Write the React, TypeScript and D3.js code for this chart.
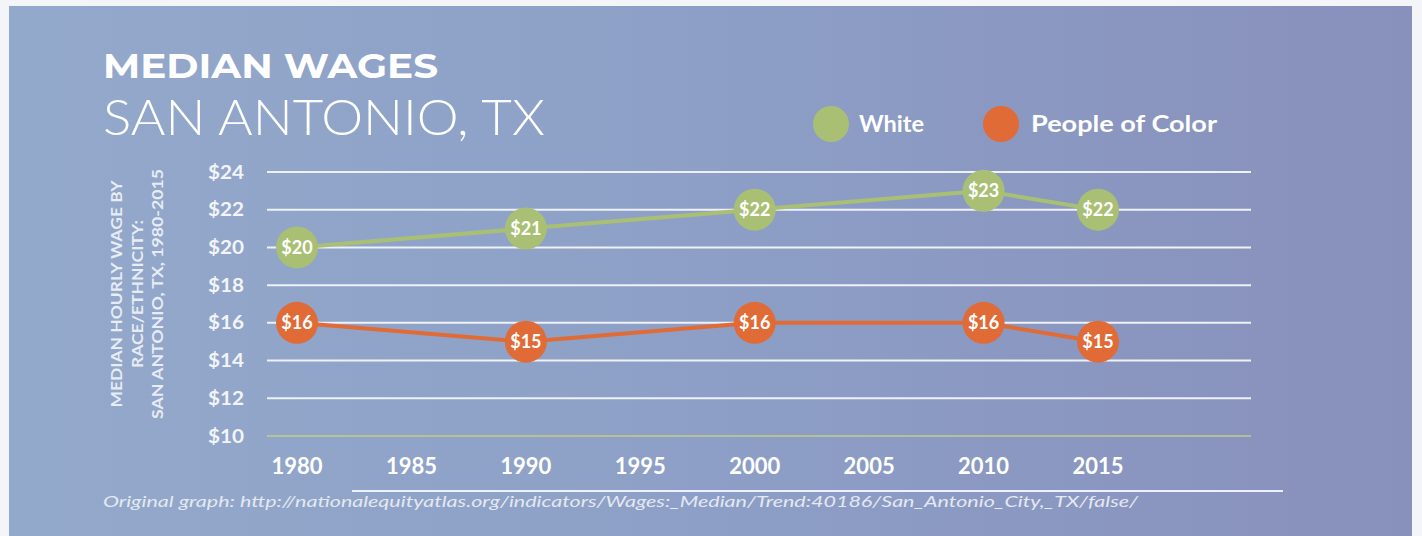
import React from "react";
import * as d3 from "d3";

const years = [1980, 1990, 2000, 2010, 2015];
const whiteWages = [20, 21, 22, 23, 22];
const pocWages = [16, 15, 16, 16, 15];
const xTicks = [1980, 1985, 1990, 1995, 2000, 2005, 2010, 2015];
const yTicks = [10, 12, 14, 16, 18, 20, 22, 24];
const seriesNames = ["White", "People of Color"];
const title = "MEDIAN WAGES";
const subtitle = "SAN ANTONIO, TX";
const yTitleLines = ["MEDIAN HOURLY WAGE BY", "RACE/ETHNICITY:", "SAN ANTONIO, TX, 1980-2015"];
const footer = "Original graph: http://nationalequityatlas.org/indicators/Wages:_Median/Trend:40186/San_Antonio_City,_TX/false/";

const W = 1422;
const H = 536;
const GREEN = "#a9c074";
const ORANGE = "#e06b36";
const FONT = "Lato, 'Open Sans', sans-serif";
const yTitleLengths = [227, 148, 250];

export default function App() {
  const x = d3.scaleLinear().domain([1980, 2015]).range([297, 1098]);
  const y = d3.scaleLinear().domain([10, 24]).range([436, 172]);
  const gridX0 = 267;
  const gridX1 = 1251;

  const line = d3
    .line<[number, number]>()
    .x((d) => x(d[0]))
    .y((d) => y(d[1]));

  const series = [
    { name: seriesNames[0], values: whiteWages, color: GREEN },
    { name: seriesNames[1], values: pocWages, color: ORANGE },
  ];

  return (
    <svg
      width={W}
      height={H}
      style={{ position: "absolute", left: 0, top: 0, display: "block" }}
    >
      <defs>
        <linearGradient id="bg" x1="0" x2="1" y1="0" y2="0">
          <stop offset="0" stopColor="#93a9cb" />
          <stop offset="0.5" stopColor="#8d9fc6" />
          <stop offset="1" stopColor="#8890bc" />
        </linearGradient>
      </defs>
      <rect x={0} y={0} width={W} height={H} fill="#f4f5f8" />
      <rect x={9} y={6} width={1403} height={H - 6} fill="url(#bg)" />

      {/* Title */}
      <text x={103} y={78} fill="#ffffff" fontFamily="Montserrat, Lato, sans-serif" fontWeight={700} fontSize={34} textLength={335} lengthAdjust="spacingAndGlyphs">
        {title}
      </text>
      <text x={103} y={135} fill="#ffffff" fontFamily="Lato, sans-serif" fontWeight={300} fontSize={50} textLength={442} lengthAdjust="spacingAndGlyphs">
        {subtitle}
      </text>

      {/* Legend */}
      <circle cx={831} cy={124} r={18} fill={GREEN} />
      <text x={859} y={132} fill="#ffffff" fontFamily={FONT} fontWeight={700} fontSize={23} textLength={65} lengthAdjust="spacingAndGlyphs">
        {seriesNames[0]}
      </text>
      <circle cx={1001} cy={124} r={18} fill={ORANGE} />
      <text x={1031} y={132} fill="#ffffff" fontFamily={FONT} fontWeight={700} fontSize={23} textLength={186} lengthAdjust="spacingAndGlyphs">
        {seriesNames[1]}
      </text>

      {/* Grid lines */}
      {yTicks.map((t) => (
        <line
          key={"g" + t}
          x1={gridX0}
          x2={gridX1}
          y1={y(t)}
          y2={y(t)}
          stroke={t === 10 ? "#c3cd86" : "#eef1f7"}
          strokeWidth={t === 10 ? 1.5 : 2}
        />
      ))}

      {/* Y tick labels */}
      {yTicks.map((t) => (
        <text
          key={"yl" + t}
          x={244}
          y={y(t) + 6.5}
          textAnchor="end"
          fill="#f3f4f8"
          fontFamily={FONT}
          fontWeight={700}
          fontSize={19}
          textLength={36}
          lengthAdjust="spacingAndGlyphs"
        >
          {"$" + t}
        </text>
      ))}

      {/* Y axis title */}
      <g transform="translate(140,294) rotate(-90)">
        {yTitleLines.map((l, i) => (
          <text
            key={l}
            x={0}
            y={-18 + i * 20.5}
            textAnchor="middle"
            fill="#e8ecf4"
            fontFamily={FONT}
            fontWeight={700}
            fontSize={15}
            textLength={yTitleLengths[i]}
            lengthAdjust="spacingAndGlyphs"
          >
            {l}
          </text>
        ))}
      </g>

      {/* X tick labels */}
      {xTicks.map((t) => (
        <text
          key={"xl" + t}
          x={x(t)}
          y={474}
          textAnchor="middle"
          fill="#ffffff"
          fontFamily={FONT}
          fontWeight={700}
          fontSize={22}
        >
          {t}
        </text>
      ))}

      {/* Lines */}
      {series.map((s) => (
        <path
          key={"p" + s.name}
          d={line(years.map((yr, i) => [yr, s.values[i]]) as [number, number][]) || ""}
          fill="none"
          stroke={s.color}
          strokeWidth={4}
        />
      ))}

      {/* Points */}
      {series.map((s) =>
        years.map((yr, i) => (
          <g key={s.name + yr}>
            <circle cx={x(yr)} cy={y(s.values[i])} r={21} fill={s.color} />
            <text
              x={x(yr)}
              y={y(s.values[i]) + 6.5}
              textAnchor="middle"
              fill="#ffffff"
              fontFamily={FONT}
              fontWeight={700}
              fontSize={18}
            >
              {"$" + s.values[i]}
            </text>
          </g>
        ))
      )}

      {/* Footer */}
      <line x1={352} x2={1283} y1={491} y2={491} stroke="#eef1f7" strokeWidth={2} />
      <text
        x={103}
        y={507}
        fill="#e4e8f1"
        fontFamily={FONT}
        fontStyle="italic"
        fontSize={15}
        textLength={1035}
        lengthAdjust="spacingAndGlyphs"
      >
        {footer}
      </text>
    </svg>
  );
}
